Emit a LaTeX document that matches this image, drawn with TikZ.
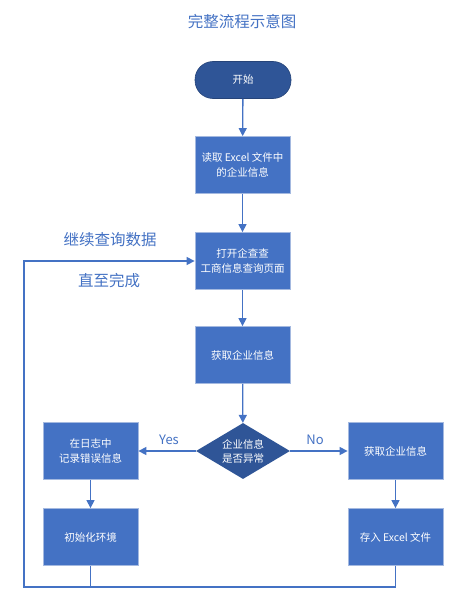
\documentclass[tikz,border=0pt]{standalone}
\usepackage{fontspec}
\setmainfont{Noto Sans CJK SC}
\usepackage{xcolor}
\usepackage{tikz}
\usetikzlibrary{arrows.meta,shapes.geometric}
\definecolor{boxblue}{HTML}{4472C4}
\definecolor{darkblue}{HTML}{2F5597}
\definecolor{rim}{HTML}{A4B9E0}
\tikzset{
  proc/.style={rectangle, fill=boxblue, draw=rim, line width=0.8pt, minimum width=95pt, minimum height=57pt, inner sep=0pt, text=white, align=center, font=\fontsize{10.5}{15}\selectfont},
  term/.style={rectangle, rounded corners=18pt, fill=darkblue, draw=darkblue!80!black, line width=0.6pt, minimum width=96pt, minimum height=37pt, text=white, font=\fontsize{10.5}{15}\selectfont},
  dec/.style={diamond, shape aspect=1.7, fill=darkblue, minimum width=94pt, minimum height=56pt, inner sep=0pt, text=white, align=center, font=\fontsize{10.5}{14}\selectfont},
  line/.style={draw=boxblue, line width=1.3pt},
  arr/.style={line, -{Triangle[length=8pt,width=8pt]}},
  lbl/.style={text=boxblue, font=\fontsize{15.5}{18}\selectfont},
  yn/.style={text=boxblue, font=\fontsize{13}{15}\selectfont}
}
\begin{document}
\begin{tikzpicture}[x=1pt,y=-1pt]
  \useasboundingbox[fill=white] (0,0) rectangle (459,607);

  \node[lbl] (title) at (242,22) {完整流程示意图};

  \node[term] (start) at (243,80) {开始};
  \node[proc] (read) at (242.5,165) {读取 Excel 文件中\\的企业信息};
  \node[proc] (open) at (242.5,261) {打开企查查\\工商信息查询页面};
  \node[proc] (get) at (242.5,355) {获取企业信息};
  \node[dec] (check) at (243,451) {企业信息\\是否异常};
  \node[proc] (log) at (90.5,451) {在日志中\\记录错误信息};
  \node[proc] (fetch) at (395.5,451) {获取企业信息};
  \node[proc] (init) at (90.5,537) {初始化环境};
  \node[proc] (save) at (395.5,537) {存入 Excel 文件};
  \coordinate (bl) at (24,587);

  \draw[arr] (start) -- (read);
  \draw[arr] (read) -- (open);
  \draw[arr] (open) -- (get);
  \draw[arr] (get) -- (check);
  \draw[arr] (check) -- (log);
  \draw[arr] (check) -- (fetch);
  \draw[arr] (log) -- (init);
  \draw[arr] (fetch) -- (save);
  \draw[arr] (save.south) |- (bl) |- (open.west);
  \draw[line] (init.south) -- (init.south |- bl);

  \node[yn] (yes) at (169,440) {Yes};
  \node[yn] (no) at (315,440) {No};
  \node[lbl] (goon) at (110,240) {继续查询数据};
  \node[lbl] (until) at (109,281) {直至完成};
\end{tikzpicture}
\end{document}
